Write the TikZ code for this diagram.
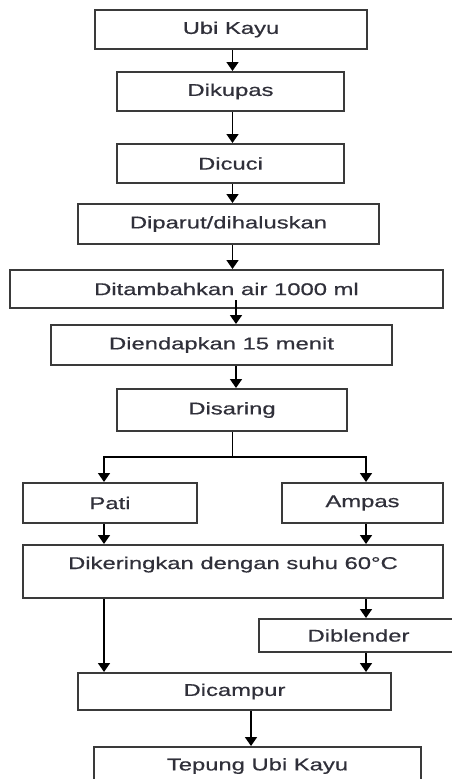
\documentclass[tikz,border=0pt]{standalone}
\usepackage{fontspec}
\setmainfont{Liberation Sans}[FakeStretch=1.4,FakeBold=0.6]
\usetikzlibrary{arrows.meta}
\definecolor{boxline}{HTML}{3A3A3A}
\definecolor{txt}{HTML}{30303A}
\begin{document}
\begin{tikzpicture}[x=1pt,y=-1pt,
  flowbox/.style={draw=boxline,line width=2pt,fill=white,inner sep=0pt,
    text=txt,font=\fontsize{17}{20}\selectfont},
  arr/.style={draw=black,line width=1.6pt,-{Triangle[width=12pt,length=9pt]}},
  plain/.style={draw=black,line width=1.6pt}]
\clip (0,0) rectangle (452,779);
\fill[white] (0,0) rectangle (452,779);
% boxes
\node[flowbox,minimum width=272,minimum height=39] (b1) at (231,29.5) {Ubi Kayu};
\node[flowbox,minimum width=227,minimum height=39] (b2) at (230.5,91.5) {Dikupas};
\node[flowbox,minimum width=227,minimum height=39] (b3) at (230.5,163.5) {Dicuci};
\node[flowbox,minimum width=301,minimum height=40] (b4) at (228.5,224) {Diparut/dihaluskan};
\node[flowbox,minimum width=433,minimum height=38] (b5) at (226.5,289) {Ditambahkan air 1000 ml};
\node[flowbox,minimum width=341,minimum height=40] (b6) at (221.5,345) {Diendapkan 15 menit};
\node[flowbox,minimum width=230,minimum height=42] (b7) at (232,410) {Disaring};
\node[flowbox,minimum width=174,minimum height=40] (pati) at (110,503) {Pati};
\node[flowbox,minimum width=161,minimum height=40] (ampas) at (362.5,503) {Ampas};
\node[flowbox,minimum width=420,text height=24,text depth=29] (dik) at (233,571.5) {Dikeringkan dengan suhu 60°C};
\node[flowbox,minimum width=199,minimum height=33] (blend) at (358.5,635.5) {Diblender};
\node[flowbox,minimum width=313,minimum height=37] (camp) at (234.5,691.5) {Dicampur};
\node[flowbox,minimum width=327,minimum height=38] (tep) at (257.5,766) {Tepung Ubi Kayu};
% x positions of connectors
\coordinate (xa) at (232.5,0);
\coordinate (xb) at (236,0);
\coordinate (xl) at (104,0);
\coordinate (xr) at (366,0);
\coordinate (xc) at (251,0);
\coordinate (split) at (232.5,457);
\coordinate (b5src) at (236,300);
% connectors
\draw[arr] (b1.south -| xa) -- (b2.north -| xa);
\draw[arr] (b2.south -| xa) -- (b3.north -| xa);
\draw[arr] (b3.south -| xa) -- (b4.north -| xa);
\draw[arr] (b4.south -| xa) -- (b5.north -| xa);
\draw[arr] (b5src) -- (b6.north -| xb);
\draw[arr] (b6.south -| xb) -- (b7.north -| xb);
\draw[plain] (b7.south -| split) -- (split);
\draw[arr] (split) -| (pati.north -| xl);
\draw[arr] (split) -| (ampas.north -| xr);
\draw[arr] (pati.south -| xl) -- (dik.north -| xl);
\draw[arr] (ampas.south -| xr) -- (dik.north -| xr);
\draw[arr] (dik.south -| xl) -- (camp.north -| xl);
\draw[arr] (dik.south -| xr) -- (blend.north -| xr);
\draw[arr] (blend.south -| xr) -- (camp.north -| xr);
\draw[arr] (camp.south -| xc) -- (tep.north -| xc);
\end{tikzpicture}
\end{document}
